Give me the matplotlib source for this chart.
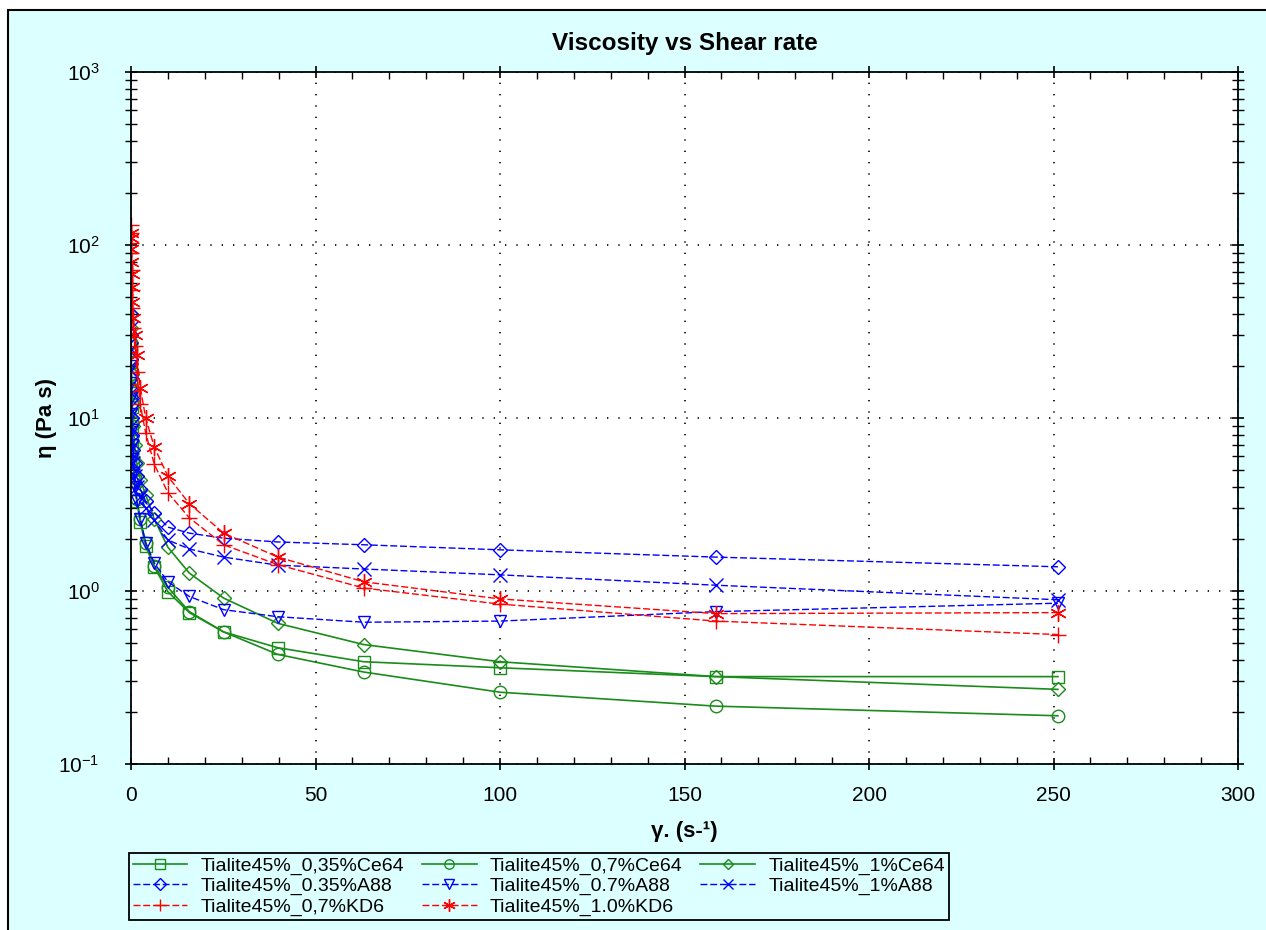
import matplotlib
matplotlib.use("Agg")
import matplotlib.pyplot as plt
from matplotlib.patches import Rectangle
from matplotlib.ticker import MultipleLocator, LogLocator, NullFormatter

plt.rcParams['font.family'] = ['Liberation Sans', 'DejaVu Sans']
plt.rcParams['mathtext.fontset'] = 'custom'
plt.rcParams['mathtext.rm'] = 'Liberation Sans'
plt.rcParams['mathtext.it'] = 'Liberation Sans'

# shear rate sweep (s-1)
shear = [0.0251, 0.0398, 0.0631, 0.1, 0.158, 0.251, 0.398, 0.631, 1.0, 1.58,
         2.51, 3.98, 6.31, 10.0, 15.8, 25.1, 39.8, 63.1, 100.0, 158.5, 251.2]

# viscosity (Pa s)
ce64_035 = [26, 21, 17, 14, 11.5, 9, 7, 5.5, 4.3, 3.3,
            2.5, 1.82, 1.38, 0.99, 0.75, 0.58, 0.47, 0.39, 0.36, 0.32, 0.32]
ce64_07 = [27, 22, 18, 15, 12, 9.5, 7.5, 5.8, 4.5, 3.4,
           2.6, 1.9, 1.4, 1.05, 0.76, 0.58, 0.43, 0.34, 0.26, 0.216, 0.19]
ce64_1 = [40, 33, 27, 22, 18, 14.5, 11.5, 9, 7, 5.5,
          4.4, 3.6, 2.6, 1.79, 1.27, 0.91, 0.65, 0.49, 0.39, 0.32, 0.27]
a88_035 = [40, 30, 22, 17, 13, 10, 8, 6.5, 5.5, 4.6,
           3.9, 3.3, 2.83, 2.34, 2.16, 2.02, 1.92, 1.85, 1.73, 1.57, 1.38]
a88_07 = [20, 16, 13, 10.5, 8.5, 7, 5.8, 4.8, 4.0, 3.3,
          2.6, 1.9, 1.45, 1.13, 0.93, 0.78, 0.71, 0.66, 0.67, 0.76, 0.85]
a88_1 = [33, 25, 19, 14, 11, 8.5, 6.8, 5.5, 4.6, 4.0,
         3.5, 3.0, 2.57, 1.97, 1.75, 1.57, 1.41, 1.34, 1.24, 1.08, 0.89]
kd6_07 = [130, 118, 103, 90, 72, 55, 43, 33, 26, 18.5,
          12, 8.2, 5.4, 3.7, 2.65, 1.85, 1.42, 1.04, 0.84, 0.67, 0.56]
kd6_10 = [118, 110, 95, 80, 68, 57, 47, 38, 30, 23,
          15, 10.0, 6.8, 4.6, 3.2, 2.16, 1.57, 1.13, 0.90, 0.74, 0.75]

bg = '#dcffff'
green = '#1a8c1a'

fig = plt.figure(figsize=(12.66, 9.3), dpi=100, facecolor='white')
fig.patches.append(Rectangle((8 / 1266, -0.01), 1.0, 1 - 10 / 930 + 0.01,
                             transform=fig.transFigure, facecolor=bg,
                             edgecolor='black', linewidth=1.5, zorder=-10))

ax = fig.add_axes([131 / 1266, 1 - 764 / 930, (1238 - 131) / 1266, (764 - 72) / 930])
ax.set_facecolor('white')

dash = (5, 2)
l1, = ax.plot(shear, ce64_035, color=green, lw=1.2, marker='s', ms=9, mfc='none', mew=1.0,
              label='Tialite45%_0,35%Ce64')
l2, = ax.plot(shear, ce64_07, color=green, lw=1.2, marker='o', ms=9, mfc='none', mew=1.0,
              label='Tialite45%_0,7%Ce64')
l3, = ax.plot(shear, ce64_1, color=green, lw=1.2, marker='D', ms=7, mfc='none', mew=1.0,
              label='Tialite45%_1%Ce64')
l4, = ax.plot(shear, a88_035, color='blue', lw=1.0, dashes=dash, marker='D', ms=7.5, mfc='none',
              mew=1.0, label='Tialite45%_0.35%A88')
l5, = ax.plot(shear, a88_07, color='blue', lw=1.0, dashes=dash, marker='v', ms=9, mfc='none',
              mew=1.0, label='Tialite45%_0.7%A88')
l6, = ax.plot(shear, a88_1, color='blue', lw=1.0, dashes=dash, marker='x', ms=10, mew=1.0,
              label='Tialite45%_1%A88')
l7, = ax.plot(shear, kd6_07, color='red', lw=1.0, dashes=dash, marker='+', ms=12, mew=1.0,
              label='Tialite45%_0,7%KD6')
l8, = ax.plot(shear, kd6_10, color='red', lw=1.0, dashes=dash, marker=(6, 2, 0), ms=12, mew=1.0,
              label='Tialite45%_1.0%KD6')

ax.set_yscale('log')
ax.set_xlim(0, 300)
ax.set_ylim(0.1, 1000)
ax.xaxis.set_major_locator(MultipleLocator(50))
ax.xaxis.set_minor_locator(MultipleLocator(10))
ax.yaxis.set_major_locator(LogLocator(base=10, numticks=10))
ax.yaxis.set_minor_locator(LogLocator(base=10, subs=range(2, 10), numticks=20))
ax.yaxis.set_minor_formatter(NullFormatter())

ax.grid(True, which='major', color='black', linestyle=(0, (0.8, 6)), linewidth=1.2)
ax.tick_params(which='major', direction='inout', length=9, width=1.2, labelsize=15,
               top=True, right=True)
ax.tick_params(axis='x', which='major', pad=11)
ax.tick_params(axis='y', which='major', pad=18)
ax.tick_params(which='minor', direction='in', length=5, width=1.0, top=True, right=True)
ax.tick_params(axis='y', which='minor', direction='inout', length=8)
for s in ax.spines.values():
    s.set_linewidth(1.3)

ax.set_title('Viscosity vs Shear rate', fontsize=17.5, fontweight='bold', pad=16)
ax.set_xlabel('γ. (s-¹)', fontsize=16, fontweight='bold', labelpad=12)
ax.set_ylabel('η (Pa s)', fontsize=16, fontweight='bold', labelpad=1)

handles = [l1, l4, l7, l2, l5, l8, l3, l6]
leg = fig.legend(handles=handles, labels=[h.get_label() for h in handles], ncol=3,
                 loc='upper left', bbox_to_anchor=(129 / 1266, 1 - 853 / 930),
                 borderaxespad=0, fontsize=14, frameon=True, fancybox=False,
                 edgecolor='black', facecolor=bg, framealpha=1, borderpad=0.2,
                 labelspacing=0.15, handlelength=2.8, columnspacing=0.9,
                 handletextpad=0.7, markerscale=0.75)
leg.get_frame().set_linewidth(1.3)

fig.savefig('out.png', dpi=100, facecolor=fig.get_facecolor())
